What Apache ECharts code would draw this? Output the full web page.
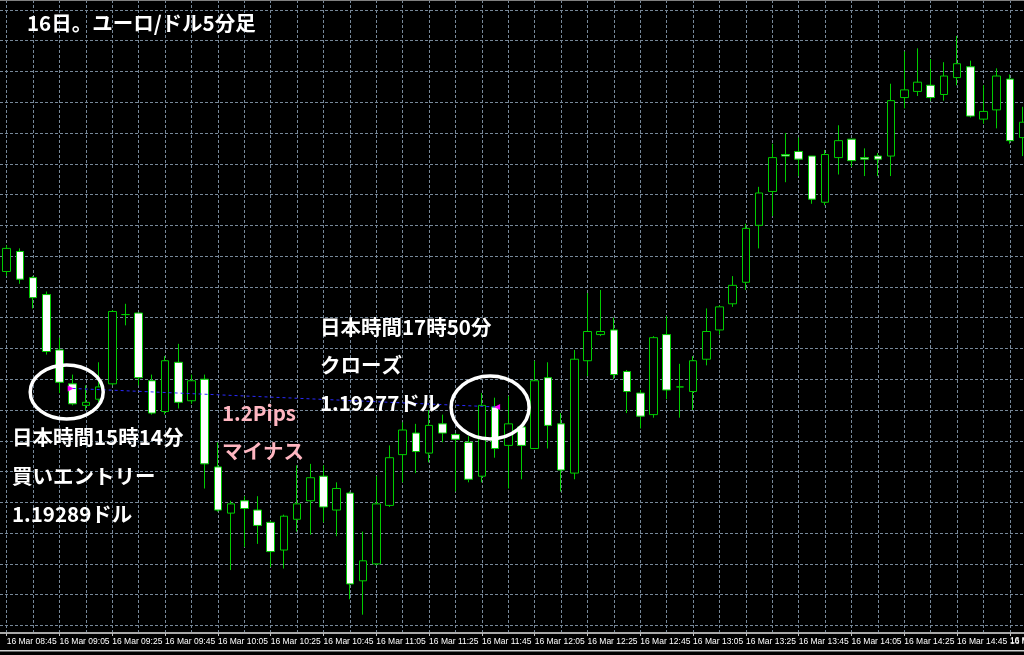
<!DOCTYPE html>
<html><head><meta charset="utf-8">
<script src="https://cdn.jsdelivr.net/npm/echarts@6/dist/echarts.min.js"></script>
<style>html,body{margin:0;padding:0;background:#000;} #c{width:1024px;height:655px;}</style>
</head><body><div id="c"></div>
<script>
// 5-minute candles, 16 Mar (server time)
const times = ["08:45","08:50","08:55","09:00","09:05","09:10","09:15","09:20","09:25","09:30","09:35","09:40","09:45","09:50","09:55",
"10:00","10:05","10:10","10:15","10:20","10:25","10:30","10:35","10:40","10:45","10:50","10:55",
"11:00","11:05","11:10","11:15","11:20","11:25","11:30","11:35","11:40","11:45","11:50","11:55",
"12:00","12:05","12:10","12:15","12:20","12:25","12:30","12:35","12:40","12:45","12:50","12:55",
"13:00","13:05","13:10","13:15","13:20","13:25","13:30","13:35","13:40","13:45","13:50","13:55",
"14:00","14:05","14:10","14:15","14:20","14:25","14:30","14:35","14:40","14:45","14:50","14:55",
"15:00","15:05","15:10"];
const opens = [1.19365,1.19378,1.19361,1.19350,1.19314,1.19292,1.19278,1.19282,1.19292,1.19337,1.19338,1.19294,1.19274,1.19306,1.19281,
1.19295,1.19238,1.19208,1.19216,1.19210,1.19202,1.19184,1.19204,1.19216,1.19232,1.19210,1.19221,1.19164,1.19175,1.19213,
1.19246,1.19260,1.19247,1.19266,1.19259,1.19254,1.19232,1.19277,1.19252,1.19264,1.19250,1.19296,1.19266,1.19234,1.19307,
1.19324,1.19327,1.19300,1.19286,1.19272,1.19324,1.19290,1.19287,1.19308,1.19327,1.19344,1.19358,1.19395,1.19417,1.19441,
1.19443,1.19440,1.19410,1.19439,1.19451,1.19439,1.19440,1.19440,1.19478,1.19482,1.19486,1.19480,1.19491,1.19498,1.19464,
1.19470,1.19490,1.19452];
const closes = [1.19380,1.19360,1.19348,1.19313,1.19293,1.19279,1.19280,1.19290,1.19339,1.19337,1.19296,1.19273,1.19307,1.19280,1.19294,
1.19240,1.19210,1.19214,1.19211,1.19200,1.19183,1.19206,1.19214,1.19231,1.19212,1.19224,1.19162,1.19177,1.19214,1.19244,
1.19262,1.19248,1.19265,1.19260,1.19256,1.19230,1.19278,1.19250,1.19266,1.19252,1.19294,1.19265,1.19236,1.19308,1.19326,
1.19326,1.19298,1.19287,1.19271,1.19322,1.19288,1.19290,1.19307,1.19326,1.19342,1.19356,1.19393,1.19416,1.19439,1.19440,
1.19438,1.19412,1.19441,1.19450,1.19437,1.19438,1.19438,1.19476,1.19483,1.19488,1.19478,1.19492,1.19500,1.19466,1.19469,
1.19492,1.19450,1.19462];
const lows = [1.19362,1.19357,1.19341,1.19311,1.19286,1.19278,1.19275,1.19280,1.19291,1.19330,1.19291,1.19272,1.19272,1.19276,1.19279,
1.19224,1.19209,1.19171,1.19186,1.19188,1.19173,1.19172,1.19196,1.19194,1.19202,1.19193,1.19152,1.19142,1.19174,1.19212,
1.19228,1.19234,1.19241,1.19254,1.19222,1.19228,1.19228,1.19244,1.19224,1.19230,1.19250,1.19250,1.19222,1.19230,1.19297,
1.19323,1.19295,1.19273,1.19263,1.19270,1.19282,1.19270,1.19275,1.19304,1.19324,1.19342,1.19353,1.19380,1.19401,1.19423,
1.19427,1.19409,1.19408,1.19428,1.19433,1.19427,1.19427,1.19427,1.19471,1.19479,1.19476,1.19476,1.19486,1.19465,1.19461,
1.19458,1.19448,1.19440];
const highs = [1.19382,1.19380,1.19362,1.19352,1.19322,1.19298,1.19291,1.19306,1.19340,1.19344,1.19338,1.19298,1.19310,1.19318,1.19298,
1.19298,1.19254,1.19216,1.19219,1.19219,1.19203,1.19207,1.19239,1.19240,1.19239,1.19228,1.19222,1.19196,1.19232,1.19252,
1.19267,1.19266,1.19275,1.19272,1.19260,1.19258,1.19286,1.19283,1.19284,1.19265,1.19307,1.19306,1.19273,1.19314,1.19351,
1.19353,1.19335,1.19301,1.19288,1.19323,1.19336,1.19305,1.19310,1.19341,1.19343,1.19362,1.19396,1.19420,1.19448,1.19455,
1.19452,1.19440,1.19444,1.19460,1.19451,1.19445,1.19442,1.19487,1.19508,1.19510,1.19503,1.19501,1.19518,1.19502,1.19486,
1.19497,1.19493,1.19472];
// trade: entry (buy) and exit
const entryIndex = 5, entryPrice = 1.19289;
const exitIndex = 37, exitPrice = 1.19277;
const lastLabelIndex = 76;

const GREEN = '#00cc00';
const GRIDC = '#778899';
const chart = echarts.init(document.getElementById('c'), null, {renderer: 'canvas'});
const candles = times.map((t, i) => [opens[i], closes[i], lows[i], highs[i]]);
const fmt = v => '16 Mar ' + v;

chart.setOption({
  backgroundColor: '#000000',
  animation: false,
  grid: [
    {left: 6.7, width: 1016.4, top: 0, height: 633, outerBoundsMode: 'none', containLabel: false},
    {left: 0, right: 0, top: 9.9, height: 615.6, outerBoundsMode: 'none', containLabel: false}
  ],
  xAxis: [
    {type: 'category', gridIndex: 0, data: times, boundaryGap: false,
     axisLine: {show: false},
     axisTick: {show: true, interval: 3, length: 3, lineStyle: {color: '#c0c0c0'}},
     axisLabel: {interval: 3, align: 'left', color: '#ffffff', fontSize: 8.5, hideOverlap: false,
                 showMinLabel: true,
                 fontFamily: 'Liberation Sans', margin: 4, formatter: fmt},
     splitLine: {show: true, interval: 1, lineStyle: {color: GRIDC, type: [3, 2], width: 1}}},
    {type: 'value', gridIndex: 1, min: 0, max: 1, show: false}
  ],
  yAxis: [
    {type: 'value', gridIndex: 0, min: 1.191301, max: 1.195414, show: false},
    {type: 'value', gridIndex: 1, min: 0, max: 20, interval: 1,
     axisLine: {show: false}, axisTick: {show: false}, axisLabel: {show: false},
     splitLine: {show: true, lineStyle: {color: GRIDC, type: [3, 2], width: 1}}}
  ],
  series: [{
    type: 'candlestick', xAxisIndex: 0, yAxisIndex: 0, data: candles,
    barWidth: 8, clip: false,
    itemStyle: {color: '#000000', color0: '#ffffff', borderColor: GREEN, borderColor0: GREEN,
                borderColorDoji: GREEN, borderWidth: 1},
    markLine: {
      silent: true, symbol: ['none', 'none'], label: {show: false},
      lineStyle: {color: '#2a2aff', type: [3, 3], width: 1},
      data: [[{coord: [times[entryIndex], entryPrice]}, {coord: [times[exitIndex], exitPrice]}]]
    },
    markPoint: {
      silent: true, label: {show: false},
      data: [
        {coord: [times[entryIndex], entryPrice], symbol: 'triangle', symbolRotate: -90, symbolSize: 6,
         symbolOffset: [-2, 0], itemStyle: {color: '#ff00ff'}},
        {coord: [times[exitIndex], exitPrice], symbol: 'triangle', symbolRotate: 90, symbolSize: 6,
         symbolOffset: [2, 0], itemStyle: {color: '#ff00ff'}}
      ]
    }
  }]
});

const pE = chart.convertToPixel({seriesIndex: 0}, [entryIndex, entryPrice]);
const pX = chart.convertToPixel({seriesIndex: 0}, [exitIndex, exitPrice]);
const pL = chart.convertToPixel({xAxisIndex: 0}, times[lastLabelIndex]);
const F = 'bold 20.5px "Noto Sans CJK JP"';
function txt(s, x, y, fill) {
  return {type: 'text', silent: true, z: 100,
          style: {text: s, x: x, y: y, fill: fill || '#ffffff', font: F, align: 'left', verticalAlign: 'middle'}};
}
chart.setOption({
  graphic: [
    {type: 'rect', silent: true, shape: {x: 0, y: 0, width: 1024, height: 1}, style: {fill: '#808080'}},
    {type: 'rect', silent: true, shape: {x: 0, y: 632, width: 1024, height: 2}, style: {fill: '#a8a8a8'}},
    {type: 'rect', silent: true, shape: {x: 0, y: 650, width: 1024, height: 1.5}, style: {fill: '#d0d0d0'}},
    {type: 'text', silent: true,
     style: {text: fmt(times[lastLabelIndex]), x: pL, y: 641, fill: '#ffffff',
             font: '8.5px "Liberation Sans"', align: 'left', verticalAlign: 'middle'}},
    {type: 'ellipse', silent: true, z: 90, shape: {cx: pE[0] - 6, cy: pE[1] + 3.5, rx: 36.5, ry: 27},
     style: {fill: 'none', stroke: '#ffffff', lineWidth: 3.5}},
    {type: 'ellipse', silent: true, z: 90, shape: {cx: pX[0] - 5, cy: pX[1] + 0.5, rx: 39, ry: 31.5},
     style: {fill: 'none', stroke: '#ffffff', lineWidth: 3.5}},
    txt('16日。ユーロ/ドル5分足', 27, 23.5),
    txt('日本時間15時14分', 12, 437),
    txt('買いエントリー', 12, 476),
    txt('1.19289ドル', 12, 514),
    txt('1.2Pips', 222, 413, '#ffb6c1'),
    txt('マイナス', 222, 451, '#ffb6c1'),
    txt('日本時間17時50分', 320, 327),
    txt('クローズ', 320, 365),
    txt('1.19277ドル', 320, 403)
  ]
});
</script>
</body></html>
